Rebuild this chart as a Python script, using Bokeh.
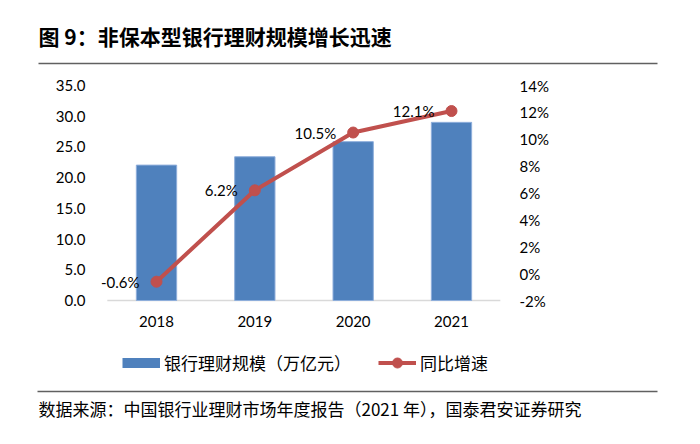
import numpy as np
from bokeh.plotting import figure
from bokeh.layouts import column
from bokeh.models import (Range1d, LinearAxis, FixedTicker, NumeralTickFormatter,
                          Legend, LegendItem, ColumnDataSource)
from bokeh.core.properties import value
from bokeh.embed import file_html
from bokeh.resources import INLINE

# ---- data ----
years = ["2018", "2019", "2020", "2021"]
scale = [22.04, 23.40, 25.86, 29.00]          # 银行理财规模（万亿元）
growth = [-0.006, 0.062, 0.105, 0.121]        # 同比增速
growth_labels = ["-0.6%", "6.2%", "10.5%", "12.1%"]
left_ticks = [0, 5, 10, 15, 20, 25, 30, 35]
right_ticks = [-0.02, 0.0, 0.02, 0.04, 0.06, 0.08, 0.10, 0.12, 0.14]

title_text = "图 9：非保本型银行理财规模增长迅速"
source_text = "数据来源：中国银行业理财市场年度报告（2021 年），国泰君安证券研究"
bar_name = "银行理财规模（万亿元）"
line_name = "同比增速"

BLUE = "#4F81BD"
RED = "#C0504D"
RULE = "#606060"
LATIN = "Lato"
CJK = "Noto Sans CJK SC"
W = 684

def blank(h):
    f = figure(width=W, height=h, x_range=Range1d(0, W), y_range=Range1d(h, 0),
               x_axis_type=None, y_axis_type=None, output_backend="svg",
               toolbar_location=None, min_border=0, frame_align=False)
    f.outline_line_color = None
    f.background_fill_color = "white"
    f.border_fill_color = "white"
    return f

# ---- header: title + rule ----
HH = 70
header = blank(HH)
header.text(x=[38], y=[35], text=[title_text], text_font=value(CJK), text_font_style="bold",
            text_font_size="21px", text_baseline="middle", text_align="left", text_color="#000000")
header.segment(x0=[38], y0=[63], x1=[657], y1=[63], line_color=RULE, line_width=1.5)

# ---- main chart ----
MH = 270
FT, FB = 15, 232           # frame top/bottom inside the main figure
FL, FR = 98, 500           # frame left/right
xs = list(range(len(years)))
px_per_cat = 98.33
x_lo = -(156 - FL) / px_per_cat
x_hi = x_lo + (FR - FL) / px_per_cat
y_top = 35
px_per_unit = (FB - 2 - FT) / y_top
y_lo = -2 / px_per_unit
pct_top = 0.14
pct_per_px = 0.16 / (FB - 2 - FT)
pct_lo = -0.02 - 2 * pct_per_px

p = figure(width=W, height=MH, x_range=Range1d(x_lo, x_hi), y_range=Range1d(y_lo, y_top),
           output_backend="svg", toolbar_location=None, frame_align=False,
           min_border_left=FL, min_border_right=W - FR, min_border_top=FT, min_border_bottom=MH - FB)
p.extra_y_ranges = {"pct": Range1d(pct_lo, pct_top)}
p.outline_line_color = None
p.xgrid.visible = False
p.ygrid.visible = False
p.background_fill_color = "white"
p.border_fill_color = "white"

src = ColumnDataSource(dict(x=xs, scale=scale, growth=growth, lab=growth_labels))

# baseline (category axis line)
p.segment(x0=[-0.5], y0=[0], x1=[len(years) - 0.5], y1=[0], line_color="#D9D9D9", line_width=1.5)
bars = p.vbar(x="x", top="scale", width=0.41, source=src, fill_color=BLUE,
              line_color="#8EAEDB", line_width=1)
line = p.line(x="x", y="growth", source=src, y_range_name="pct", line_color=RED, line_width=4)
pts = p.scatter(x="x", y="growth", source=src, y_range_name="pct", size=11,
                fill_color=RED, line_color=RED)
p.text(x="x", y="growth", text="lab", source=src, y_range_name="pct", x_offset=-17,
       text_align="right", text_baseline="middle", text_font=value(LATIN),
       text_font_size="15px", text_color="#000000")

xa = p.xaxis[0]
xa.ticker = FixedTicker(ticks=xs)
xa.major_label_overrides = {i: y for i, y in zip(xs, years)}
xa.axis_line_color = None
xa.major_tick_line_color = None
xa.minor_tick_line_color = None
xa.major_label_standoff = 7
xa.major_label_text_font = LATIN
xa.major_label_text_font_size = "15px"
xa.major_label_text_color = "#000000"

ya = p.yaxis[0]
ya.ticker = FixedTicker(ticks=left_ticks)
ya.formatter = NumeralTickFormatter(format="0.0")
ya.axis_line_color = None
ya.major_tick_line_color = None
ya.minor_tick_line_color = None
ya.major_label_standoff = 7
ya.major_label_text_font = LATIN
ya.major_label_text_font_size = "15px"
ya.major_label_text_color = "#000000"

ra = LinearAxis(y_range_name="pct", ticker=FixedTicker(ticks=right_ticks),
                formatter=NumeralTickFormatter(format="0%"))
ra.axis_line_color = None
ra.major_tick_line_color = None
ra.minor_tick_line_color = None
ra.major_label_standoff = 13
ra.major_label_text_font = LATIN
ra.major_label_text_font_size = "15px"
ra.major_label_text_color = "#000000"
p.add_layout(ra, "right")

# ---- footer: legend, rule, source ----
FH = 88
footer = blank(FH)
nan = np.array([np.nan])   # legend keys only: nothing is drawn in the plot area
key_bar = footer.line(x=nan, y=nan, line_color=BLUE, line_width=10, line_cap="butt")
key_line = footer.line(x=nan, y=nan, line_color=RED, line_width=4)
key_pts = footer.scatter(x=nan, y=nan, size=11, fill_color=RED, line_color=RED)
legend = Legend(items=[LegendItem(label=bar_name, renderers=[key_bar]),
                       LegendItem(label=line_name, renderers=[key_line, key_pts])],
                orientation="horizontal", location=(122, FH - 22 - 12.5), padding=0, margin=0,
                spacing=27, label_standoff=4, glyph_width=38, glyph_height=25,
                label_height=10, border_line_color=None, background_fill_alpha=0,
                label_text_font=CJK, label_text_font_size="17px", label_text_color="#000000")
footer.add_layout(legend, "center")
footer.segment(x0=[37], y0=[51], x1=[657], y1=[51], line_color=RULE, line_width=1.5)
footer.text(x=[38], y=[68], text=[source_text], text_font=value(CJK), text_font_size="17px",
            text_baseline="middle", text_align="left", text_color="#000000")

layout = column(header, p, footer, spacing=0)
open("out.html", "w").write(file_html(layout, INLINE))
